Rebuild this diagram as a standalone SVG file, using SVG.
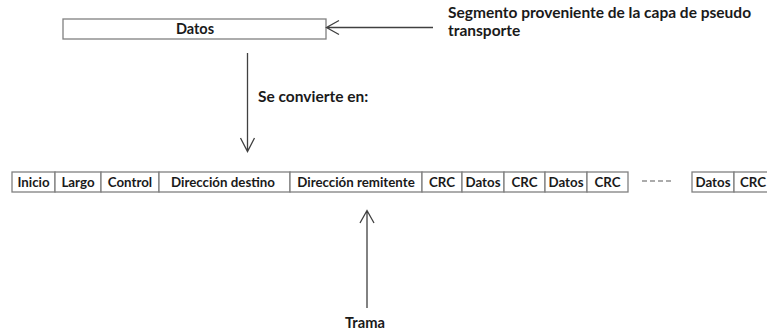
<svg xmlns="http://www.w3.org/2000/svg" width="767" height="333" viewBox="0 0 767 333">
<defs>
<style>
.t{font-family:Lato,"Liberation Sans",sans-serif;font-weight:bold;fill:#1a1a1a}
.lb{font-size:15.5px}
.c{font-size:13.3px;text-anchor:middle}
.box{fill:#fff;stroke:#808080;stroke-width:1.3}
.ln{stroke:#404040;stroke-width:1.3;fill:none}
</style>
</defs>
<rect width="767" height="333" fill="#fff"/>
<g id="datos">
<rect class="box" x="63" y="19" width="263" height="20"/>
<text class="t c" x="195" y="33.5" style="font-size:14.5px">Datos</text>
</g>
<g id="segmento">
<text class="t lb" x="448" y="18">Segmento proveniente de la capa de pseudo</text>
<text class="t lb" x="448" y="36">transporte</text>
</g>
<g id="convierte">
<text class="t lb" x="258" y="102">Se convierte en:</text>
</g>
<g id="trama-frame">
<rect class="box" x="12" y="172" width="43" height="20"/>
<rect class="box" x="55" y="172" width="46" height="20"/>
<rect class="box" x="101" y="172" width="58" height="20"/>
<rect class="box" x="159" y="172" width="131" height="20"/>
<rect class="box" x="290" y="172" width="132" height="20"/>
<rect class="box" x="422" y="172" width="40" height="20"/>
<rect class="box" x="462" y="172" width="42" height="20"/>
<rect class="box" x="504" y="172" width="41" height="20"/>
<rect class="box" x="545" y="172" width="42" height="20"/>
<rect class="box" x="587" y="172" width="41" height="20"/>
<rect class="box" x="692" y="172" width="42" height="20"/>
<rect class="box" x="734" y="172" width="42" height="20"/>
<text class="t c" x="33.5" y="187">Inicio</text>
<text class="t c" x="78" y="187">Largo</text>
<text class="t c" x="130" y="187">Control</text>
<text class="t c" x="223" y="187">Dirección destino</text>
<text class="t c" x="356" y="187">Dirección remitente</text>
<text class="t c" x="442" y="187">CRC</text>
<text class="t c" x="483" y="187">Datos</text>
<text class="t c" x="524.5" y="187">CRC</text>
<text class="t c" x="566" y="187">Datos</text>
<text class="t c" x="607.5" y="187">CRC</text>
<text class="t c" x="713" y="187">Datos</text>
<text class="t c" x="753" y="187">CRC</text>
<line x1="642" y1="181" x2="672" y2="181" stroke="#909090" stroke-width="1.3" stroke-dasharray="5,3"/>
</g>
<g id="trama">
<text class="t c" x="365" y="328" style="font-size:14.7px">Trama</text>
</g>
<g id="connectors">
<path class="ln" d="M433 27.5H326.5M339 20.5L326.5 27.5L339 34.5"/>
<path class="ln" d="M247.5 53V151.5M240.5 138L247.5 151.5L254.5 138"/>
<path class="ln" d="M367 308V210.5M360 223L367 210.5L374 223"/>
</g>
</svg>
